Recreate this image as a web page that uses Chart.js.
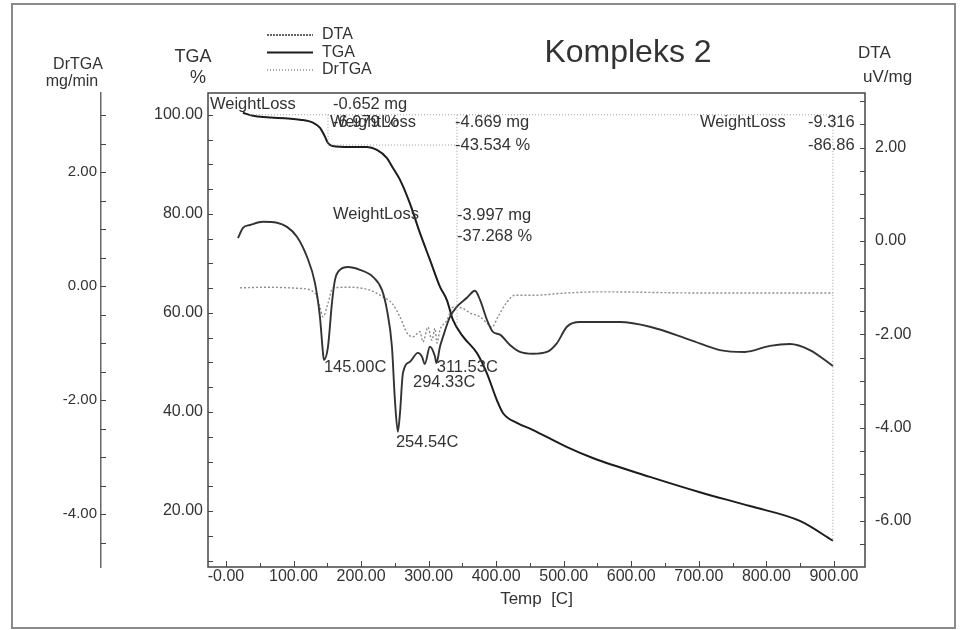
<!DOCTYPE html>
<html>
<head>
<meta charset="utf-8">
<script src="https://cdn.jsdelivr.net/npm/chart.js@4.4.1/dist/chart.umd.min.js"></script>
<style>
  html, body { margin: 0; padding: 0; background: #fff; }
  #wrap { width: 961px; height: 630px; position: relative; }
</style>
</head>
<body>
<div id="wrap"><canvas id="chart" width="961" height="630"></canvas></div>
<script>
// --- data (temperature in C) ---
const tgaTemp  = [25, 40, 109.5, 128.8, 139, 146.5, 151, 158, 183.5, 208.7, 223.5, 238, 247, 257.5, 272, 287, 302, 316.7, 327, 336, 351, 371.5, 386, 401, 410, 430.7, 454, 505, 543, 627.6, 701.6, 775.6, 849.6, 898.5];
const tgaValue = [100.4, 99.8, 99.0, 98.4, 97.4, 95.6, 94.3, 93.7, 93.5, 93.5, 92.9, 91.3, 89.3, 86.9, 82.2, 76.2, 70.7, 65.3, 62.6, 58.6, 55.2, 51.9, 47.9, 42.4, 39.8, 37.8, 36.4, 32.9, 30.7, 26.9, 23.8, 21.0, 18.0, 14.0];

const dtaTemp  = [17.8, 25.2, 35.5, 54.8, 75.5, 90.3, 105.1, 119.9, 131.7, 139.1, 143.6, 145, 151, 156.9, 161.3, 168.7, 180.6, 198.3, 217.6, 230.9, 238.3, 245.7, 250.1, 254.5, 257.6, 262, 272.4, 284.2, 290.1, 294.3, 301.9, 309.4, 311.5, 316.8, 321.2, 331.6, 341.9, 356.7, 368.6, 376, 386.3, 395.2, 405.6, 420.4, 435.2, 454.4, 475.1, 490, 504.7, 524, 553.6, 583.2, 627.6, 686.8, 731.2, 768.2, 805.2, 834.8, 864.4, 898.5];
const dtaValue = [0.06, 0.28, 0.34, 0.41, 0.39, 0.30, 0.09, -0.34, -0.90, -1.63, -2.40, -2.55, -2.27, -1.33, -0.84, -0.62, -0.56, -0.62, -0.77, -1.05, -1.48, -2.27, -3.41, -4.09, -3.69, -2.83, -2.59, -2.40, -2.48, -2.64, -2.27, -2.48, -2.62, -2.27, -2.06, -1.63, -1.41, -1.22, -1.07, -1.26, -1.69, -1.95, -2.01, -2.23, -2.38, -2.42, -2.38, -2.19, -1.84, -1.74, -1.74, -1.74, -1.84, -2.12, -2.34, -2.38, -2.25, -2.21, -2.34, -2.68];

const drtgaTemp  = [20.7, 60.7, 109.5, 131.7, 139.1, 143.6, 151, 158.4, 183.5, 213.1, 232.4, 245.7, 257.6, 267.9, 276.8, 287.2, 291.6, 299, 304.9, 309.4, 312.3, 316.8, 327.1, 336, 350.8, 361.2, 376, 386.3, 393.7, 402.6, 415.9, 427.8, 454.4, 504.7, 553.6, 701.6, 898.5];
const drtgaValue = [-0.03, -0.02, -0.04, -0.12, -0.37, -0.54, -0.30, -0.03, -0.02, -0.07, -0.19, -0.30, -0.54, -0.82, -0.89, -0.80, -0.98, -0.72, -0.95, -0.74, -1.0, -0.77, -0.60, -0.37, -0.39, -0.47, -0.54, -0.65, -0.72, -0.54, -0.28, -0.16, -0.16, -0.12, -0.10, -0.12, -0.12];

// tick positions (major ones carry a label)
const tempTicks  = [0, 50, 100, 150, 200, 250, 300, 350, 400, 450, 500, 550, 600, 650, 700, 750, 800, 850, 900];
const tempLabels = ['-0.00', '100.00', '200.00', '300.00', '400.00', '500.00', '600.00', '700.00', '800.00', '900.00'];
const tgaTicks   = [10, 15, 20, 25, 30, 35, 40, 45, 50, 55, 60, 65, 70, 75, 80, 85, 90, 95, 100];
const drtgaTicks = [-4.5, -4, -3.5, -3, -2.5, -2, -1.5, -1, -0.5, 0, 0.5, 1, 1.5, 2, 2.5, 3];
const dtaTicks   = [-6.5, -6, -5.5, -5, -4.5, -4, -3.5, -3, -2.5, -2, -1.5, -1, -0.5, 0, 0.5, 1, 1.5, 2, 2.5, 3];

// weight loss readouts and peak temperatures printed by the instrument
const stepNotes = [
  { text: '-6.979 %',   t: 158.4, v: 98.4 },
  { text: 'WeightLoss', t: -23.7, v: 102.0 },
  { text: '-0.652 mg',  t: 158.4, v: 102.0 },
  { text: 'WeightLoss', t: 154,   v: 98.4 },
  { text: '-4.669 mg',  t: 339,   v: 98.4 },
  { text: '-43.534 %',  t: 339,   v: 93.9 },
  { text: 'WeightLoss', t: 158.4, v: 79.8 },
  { text: '-3.997 mg',  t: 342,   v: 79.6 },
  { text: '-37.268 %',  t: 342,   v: 75.4 },
  { text: 'WeightLoss', t: 701.6, v: 98.4 },
  { text: '-9.316',     t: 861.5, v: 98.4 },
  { text: '-86.86',     t: 861.5, v: 93.9 }
];
const stepGuides = [
  [35.5, 100, 898.5, 100],
  [151, 100, 151, 93.9],
  [151, 93.9, 342, 93.9],
  [342, 100, 342, 57.2],
  [898.5, 100, 898.5, 14.1]
];
const peakNotes = [
  { text: '145.00C', t: 145,   v: -2.72 },
  { text: '254.54C', t: 251.6, v: -4.31 },
  { text: '294.33C', t: 276.8, v: -3.04 },
  { text: '311.53C', t: 312,   v: -2.72 }
];

const FONT = '"Liberation Sans", Arial, sans-serif';
const INK = '#333';
Chart.defaults.font.family = FONT;
Chart.defaults.color = INK;

function pts(xs, ys) {
  return xs.map((x, i) => ({ x: x, y: ys[i] }));
}
function fixTicks(list) {
  return scale => { scale.ticks = list.map(v => ({ value: v })); };
}

const lineStyle = { pointRadius: 0, fill: false, cubicInterpolationMode: 'monotone' };
// how each series is shown in the little legend block
const legendDash = { DTA: [2, 1], TGA: [], DrTGA: [1, 2] };

const decor = {
  id: 'decor',
  beforeDraw(chart) {
    const ctx = chart.ctx;
    ctx.save();
    ctx.fillStyle = '#fff';
    ctx.fillRect(0, 0, chart.width, chart.height);
    ctx.restore();
  },
  afterDraw(chart) {
    const { ctx, chartArea: a } = chart;
    const s = chart.scales;
    ctx.save();

    // plot box
    ctx.strokeStyle = '#444';
    ctx.lineWidth = 1.5;
    ctx.strokeRect(a.left, a.top, a.right - a.left, a.bottom - a.top);

    // inward tick marks
    ctx.lineWidth = 1;
    ctx.beginPath();
    s.yDr.ticks.forEach(t => {
      const p = Math.round(s.yDr.getPixelForValue(t.value)) + 0.5;
      ctx.moveTo(s.yDr.right, p); ctx.lineTo(s.yDr.right + 5, p);
    });
    s.yTGA.ticks.forEach(t => {
      const p = Math.round(s.yTGA.getPixelForValue(t.value)) + 0.5;
      ctx.moveTo(a.left, p); ctx.lineTo(a.left + 5, p);
    });
    s.yDTA.ticks.forEach(t => {
      const p = Math.round(s.yDTA.getPixelForValue(t.value)) + 0.5;
      ctx.moveTo(a.right, p); ctx.lineTo(a.right - 5, p);
    });
    s.x.ticks.forEach(t => {
      const p = Math.round(s.x.getPixelForValue(t.value)) + 0.5;
      ctx.moveTo(p, a.bottom); ctx.lineTo(p, a.bottom - (t.value % 100 === 0 ? 6 : 4));
    });
    ctx.stroke();

    // weight loss guides
    ctx.strokeStyle = '#9a9a9a';
    ctx.setLineDash([1, 2]);
    ctx.beginPath();
    stepGuides.forEach(g => {
      ctx.moveTo(s.x.getPixelForValue(g[0]), s.yTGA.getPixelForValue(g[1]));
      ctx.lineTo(s.x.getPixelForValue(g[2]), s.yTGA.getPixelForValue(g[3]));
    });
    ctx.stroke();
    ctx.setLineDash([]);

    // notes
    ctx.fillStyle = INK;
    ctx.font = '16.5px ' + FONT;
    ctx.textAlign = 'left';
    ctx.textBaseline = 'middle';
    stepNotes.forEach(n => {
      ctx.fillText(n.text, s.x.getPixelForValue(n.t), s.yTGA.getPixelForValue(n.v));
    });
    peakNotes.forEach(n => {
      ctx.fillText(n.text, s.x.getPixelForValue(n.t), s.yDTA.getPixelForValue(n.v));
    });

    // axis titles
    ctx.font = '16px ' + FONT;
    ctx.textAlign = 'center';
    ctx.fillText('DrTGA', 78, 65);
    ctx.fillText('mg/min', 72, 82);
    ctx.font = '18px ' + FONT;
    ctx.fillText('TGA', 193, 57);
    ctx.fillText('%', 198, 78);
    ctx.textAlign = 'left';
    ctx.font = '17px ' + FONT;
    ctx.fillText('DTA', 858, 53);
    ctx.fillText('uV/mg', 863, 77);

    // title
    ctx.textAlign = 'center';
    ctx.font = '32px ' + FONT;
    ctx.fillText('Kompleks 2', 628, 53);

    // legend
    ctx.font = '16px ' + FONT;
    ctx.textAlign = 'left';
    chart.data.datasets.forEach((d, i) => {
      const y = 35 + i * 17.5;
      ctx.strokeStyle = d.borderColor;
      ctx.lineWidth = d.label === 'TGA' ? 2 : 1.5;
      ctx.setLineDash(legendDash[d.label]);
      ctx.beginPath();
      ctx.moveTo(267, y); ctx.lineTo(313, y);
      ctx.stroke();
      ctx.setLineDash([]);
      ctx.fillText(d.label, 322, y);
    });

    // outer frame
    ctx.strokeStyle = '#8a8a8a';
    ctx.lineWidth = 2;
    ctx.strokeRect(12, 4, 943, 624);
    ctx.restore();
  }
};

new Chart(document.getElementById('chart'), {
  type: 'line',
  data: {
    datasets: [
      Object.assign({ label: 'DTA', data: pts(dtaTemp, dtaValue), yAxisID: 'yDTA',
        borderColor: '#333333', borderWidth: 1.9 }, lineStyle),
      Object.assign({ label: 'TGA', data: pts(tgaTemp, tgaValue), yAxisID: 'yTGA',
        borderColor: '#1c1c1c', borderWidth: 2 }, lineStyle),
      Object.assign({ label: 'DrTGA', data: pts(drtgaTemp, drtgaValue), yAxisID: 'yDr',
        borderColor: '#8c8c8c', borderWidth: 1.4, borderDash: [2, 2] }, lineStyle)
    ]
  },
  options: {
    responsive: false,
    animation: false,
    devicePixelRatio: 1,
    layout: { padding: { left: 40, top: 93, right: 0, bottom: 0 } },
    plugins: { legend: { display: false }, tooltip: { enabled: false } },
    scales: {
      x: {
        type: 'linear', position: 'bottom', min: -26.6, max: 946,
        afterBuildTicks: fixTicks(tempTicks),
        afterFit: sc => { sc.height = 63; },
        grid: { display: false, drawTicks: false },
        border: { display: false },
        ticks: {
          padding: 0, color: INK, font: { size: 16 },
          maxRotation: 0, minRotation: 0, autoSkip: false,
          callback: v => (v % 100 === 0 ? tempLabels[v / 100] : '')
        },
        title: { display: true, text: 'Temp  [C]', color: INK, font: { size: 17 }, padding: { top: 0, bottom: 20 } }
      },
      yDr: {
        type: 'linear', position: 'left', weight: 1, min: -4.93, max: 3.39,
        afterBuildTicks: fixTicks(drtgaTicks),
        afterFit: sc => { sc.width = 61; },
        grid: { display: false, drawTicks: false },
        border: { display: true, color: '#666', width: 1.5 },
        ticks: {
          padding: 4, color: INK, font: { size: 15 },
          callback: v => (v % 2 === 0 ? v.toFixed(2) : '')
        }
      },
      yTGA: {
        type: 'linear', position: 'left', weight: 0, min: 8.7, max: 104.4,
        afterBuildTicks: fixTicks(tgaTicks),
        afterFit: sc => { sc.width = 107; },
        grid: { display: false, drawTicks: false },
        border: { display: false },
        ticks: {
          padding: 5, color: INK, font: { size: 16 },
          callback: v => (v % 20 === 0 ? v.toFixed(2) : '')
        }
      },
      yDTA: {
        type: 'linear', position: 'right', min: -6.99, max: 3.17,
        afterBuildTicks: fixTicks(dtaTicks),
        afterFit: sc => { sc.width = 96; },
        grid: { display: false, drawTicks: false },
        border: { display: false },
        ticks: {
          padding: 10, color: INK, font: { size: 16 },
          callback: v => (v % 2 === 0 ? v.toFixed(2) : '')
        }
      }
    }
  },
  plugins: [decor]
});
</script>
</body>
</html>
